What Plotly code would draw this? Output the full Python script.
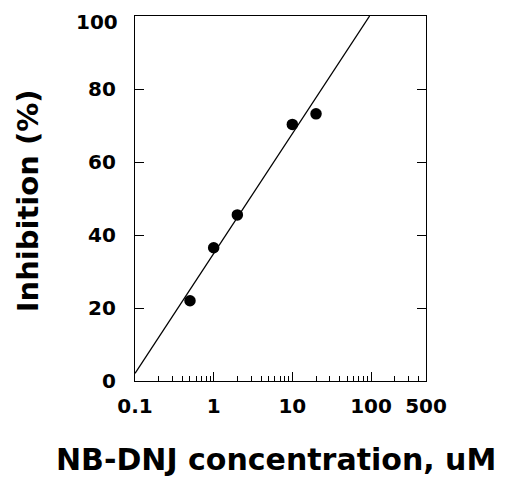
import plotly.graph_objects as go

# Data
conc_uM = [0.5, 1, 2, 10, 20]
inhibition_pct = [22.0, 36.5, 45.5, 70.3, 73.2]

# Fitted line endpoints
fit_x = [0.1, 96]
fit_y = [2.1, 100]

x_tickvals = [0.1, 1, 10, 100, 500]
x_ticktext = ["0.1", "1", "10", "100", "500"]
x_minor = [0.2, 0.3, 0.4, 0.5, 0.6, 0.7, 0.8, 0.9,
           2, 3, 4, 5, 6, 7, 8, 9,
           20, 30, 40, 50, 60, 70, 80, 90,
           200, 300, 400]
y_tickvals = [0, 20, 40, 60, 80, 100]
y_ticktext = ["0", "20", "40", "60", "80", "100"]

x_title = "NB-DNJ concentration, uM"
y_title = "Inhibition (%)"

FONT = "DejaVu Sans"

fig = go.Figure()
fig.add_trace(go.Scatter(x=fit_x, y=fit_y, mode="lines",
                         line=dict(color="black", width=1.3),
                         showlegend=False, hoverinfo="skip"))
fig.add_trace(go.Scatter(x=conc_uM, y=inhibition_pct, mode="markers",
                         marker=dict(color="black", size=11.5, symbol="circle"),
                         showlegend=False))

# the top label (100) sits slightly below its tick, as in the original
shown_text = y_ticktext[:-1] + [""]
annotations = [
    dict(text=y_ticktext[-1], xref="paper", yref="y", x=0, y=y_tickvals[-1],
         xanchor="right", yanchor="middle", xshift=-15, yshift=-6,
         showarrow=False, font=dict(family=FONT, size=20, weight="bold")),
    dict(text=x_title, xref="paper", yref="paper", x=0.486, y=-0.216,
         xanchor="center", yanchor="middle", showarrow=False,
         font=dict(family=FONT, size=30, weight="bold")),
    dict(text=y_title, xref="paper", yref="paper", x=-0.368, y=0.495,
         xanchor="center", yanchor="middle", showarrow=False, textangle=-90,
         font=dict(family=FONT, size=29, weight="bold")),
]

fig.update_layout(
    width=500, height=472,
    margin=dict(l=127, r=82, t=8, b=99, autoexpand=False),
    paper_bgcolor="white", plot_bgcolor="white",
    font=dict(family=FONT, color="black", size=18, weight="bold"),
    xaxis=dict(
        type="log", range=[-1, 2.699], automargin=False,
        tickvals=x_tickvals, ticktext=x_ticktext,
        ticks="inside", ticklen=9, tickwidth=1, tickcolor="black",
        ticklabelstandoff=7, ticklabeloverflow="allow",
        minor=dict(tickvals=x_minor, ticks="inside", ticklen=5,
                   tickwidth=1, tickcolor="black", showgrid=False),
        showline=True, linecolor="black", linewidth=1.2, mirror=True,
        showgrid=False, zeroline=False,
        tickfont=dict(family=FONT, size=20, weight="bold"),
    ),
    yaxis=dict(
        range=[0, 100], tickvals=y_tickvals, ticktext=shown_text,
        automargin=False,
        ticks="inside", ticklen=9, tickwidth=1, tickcolor="black",
        ticklabelstandoff=14, ticklabeloverflow="allow",
        showline=True, linecolor="black", linewidth=1.2, mirror="ticks",
        showgrid=False, zeroline=False,
        tickfont=dict(family=FONT, size=20, weight="bold"),
    ),
    annotations=annotations,
)

fig.write_html("out.html")
